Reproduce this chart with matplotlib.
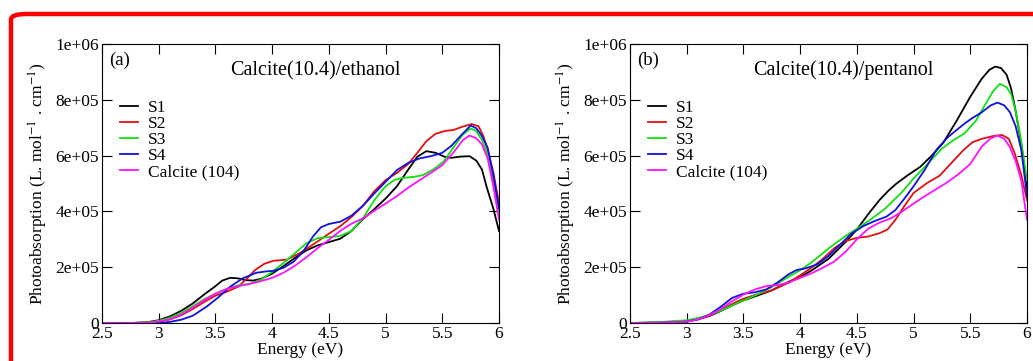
import matplotlib
matplotlib.use("Agg")
import matplotlib.pyplot as plt
from matplotlib.patches import FancyBboxPatch

plt.rcParams['font.family'] = ['Liberation Serif', 'DejaVu Serif']
plt.rcParams['mathtext.fontset'] = 'stix'

# ---------------- panel (a): ethanol ----------------
a_s1_e = [2.5, 2.75, 2.9, 3.0, 3.1, 3.2, 3.3, 3.4, 3.5, 3.56, 3.63, 3.7, 3.76, 3.83, 3.9, 4.0, 4.1, 4.2, 4.3,
          4.4, 4.5, 4.6, 4.7, 4.8, 4.9, 5.0, 5.1, 5.2, 5.28, 5.36, 5.44, 5.52, 5.58, 5.65, 5.74, 5.8, 5.85,
          5.89, 5.95, 6.0]
a_s1_v = [0, 0, 3e3, 1.0e4, 2.4e4, 4.4e4, 7.0e4, 1.02e5, 1.32e5, 1.52e5, 1.62e5, 1.6e5, 1.54e5, 1.52e5, 1.58e5,
          1.77e5, 2.04e5, 2.33e5, 2.6e5, 2.78e5, 2.9e5, 3.02e5, 3.3e5, 3.72e5, 4.08e5, 4.46e5, 4.9e5, 5.5e5,
          5.96e5, 6.16e5, 6.1e5, 5.96e5, 5.92e5, 5.96e5, 5.98e5, 5.82e5, 5.5e5, 4.89e5, 4.1e5, 3.3e5]

a_s2_e = [2.5, 2.75, 2.9, 3.0, 3.1, 3.2, 3.3, 3.4, 3.5, 3.6, 3.7, 3.78, 3.85, 3.93, 4.01, 4.13, 4.25, 4.4,
          4.5, 4.6, 4.7, 4.8, 4.9, 5.0, 5.1, 5.2, 5.28, 5.36, 5.44, 5.52, 5.6, 5.68, 5.76, 5.82, 5.86, 5.9,
          5.95, 6.0]
a_s2_v = [0, 0, 1e3, 5e3, 1.3e4, 2.8e4, 5.0e4, 7.5e4, 9.8e4, 1.12e5, 1.3e5, 1.6e5, 1.9e5, 2.12e5, 2.23e5,
          2.27e5, 2.52e5, 2.92e5, 3.2e5, 3.47e5, 3.8e5, 4.2e5, 4.72e5, 5.12e5, 5.38e5, 5.7e5, 6.1e5, 6.52e5,
          6.78e5, 6.88e5, 6.92e5, 7.04e5, 7.13e5, 7.05e5, 6.72e5, 6.22e5, 5.4e5, 4.3e5]

a_s3_e = [2.5, 2.75, 2.9, 3.0, 3.1, 3.2, 3.3, 3.4, 3.5, 3.6, 3.7, 3.8, 3.9, 4.0, 4.1, 4.2, 4.3, 4.4, 4.5,
          4.6, 4.7, 4.8, 4.9, 5.0, 5.08, 5.15, 5.25, 5.33, 5.42, 5.51, 5.6, 5.68, 5.75, 5.8, 5.85, 5.9, 5.95,
          6.0]
a_s3_v = [0, 0, 2e3, 8e3, 1.9e4, 3.6e4, 6.0e4, 8.5e4, 1.05e5, 1.22e5, 1.35e5, 1.4e5, 1.55e5, 1.83e5, 2.15e5,
          2.5e5, 2.85e5, 3.04e5, 3.08e5, 3.12e5, 3.3e5, 3.75e5, 4.4e5, 4.9e5, 5.13e5, 5.2e5, 5.24e5, 5.3e5,
          5.5e5, 5.78e5, 6.3e5, 6.75e5, 6.97e5, 6.88e5, 6.55e5, 6.05e5, 5.1e5, 3.95e5]

a_s4_e = [2.5, 2.75, 3.0, 3.1, 3.2, 3.3, 3.42, 3.52, 3.63, 3.74, 3.86, 3.95, 4.01, 4.1, 4.19, 4.28, 4.36, 4.43,
          4.5, 4.6, 4.7, 4.8, 4.9, 5.0, 5.1, 5.2, 5.3, 5.4, 5.5, 5.58, 5.66, 5.75, 5.8, 5.85, 5.9, 5.95, 6.0]
a_s4_v = [0, 0, 0, 4e3, 1.2e4, 2.6e4, 5.8e4, 9.0e4, 1.3e5, 1.6e5, 1.8e5, 1.85e5, 1.87e5, 1.98e5, 2.2e5, 2.6e5,
          3.1e5, 3.43e5, 3.55e5, 3.63e5, 3.85e5, 4.2e5, 4.64e5, 5.06e5, 5.48e5, 5.74e5, 5.9e5, 5.98e5, 6.1e5,
          6.35e5, 6.7e5, 7.08e5, 6.98e5, 6.7e5, 6.28e5, 5.3e5, 4.1e5]

a_ca_e = [2.5, 2.75, 2.9, 3.0, 3.1, 3.2, 3.3, 3.4, 3.5, 3.6, 3.7, 3.8, 3.9, 4.0, 4.1, 4.2, 4.3, 4.4, 4.5,
          4.6, 4.7, 4.8, 4.9, 5.0, 5.1, 5.2, 5.3, 5.4, 5.5, 5.6, 5.68, 5.74, 5.8, 5.85, 5.9, 5.95, 6.0]
a_ca_v = [0, 0, 1e3, 5e3, 1.4e4, 3.0e4, 5.5e4, 8.2e4, 1.05e5, 1.22e5, 1.32e5, 1.4e5, 1.5e5, 1.62e5, 1.8e5,
          2.05e5, 2.35e5, 2.68e5, 2.98e5, 3.3e5, 3.56e5, 3.75e5, 4.02e5, 4.28e5, 4.55e5, 4.85e5, 5.12e5, 5.38e5,
          5.66e5, 6.12e5, 6.55e5, 6.72e5, 6.62e5, 6.4e5, 5.9e5, 4.9e5, 3.7e5]

# ---------------- panel (b): pentanol ----------------
b_s1_e = [2.5, 2.75, 3.0, 3.1, 3.2, 3.3, 3.4, 3.5, 3.6, 3.75, 3.9, 4.0, 4.1, 4.25, 4.4, 4.5, 4.6, 4.7, 4.78,
          4.85, 4.95, 5.06, 5.16, 5.26, 5.38, 5.5, 5.6, 5.67, 5.72, 5.77, 5.82, 5.86, 5.9, 5.95, 6.0]
b_s1_v = [0, 2e3, 7e3, 1.4e4, 2.5e4, 4.3e4, 6.3e4, 8.1e4, 9.5e4, 1.17e5, 1.48e5, 1.65e5, 1.88e5, 2.3e5, 2.9e5,
          3.35e5, 3.9e5, 4.41e5, 4.75e5, 5.0e5, 5.3e5, 5.6e5, 6.0e5, 6.45e5, 7.25e5, 8.11e5, 8.75e5, 9.08e5,
          9.19e5, 9.14e5, 8.9e5, 8.4e5, 7.6e5, 6.4e5, 4.9e5]

b_s2_e = [2.5, 2.75, 3.0, 3.1, 3.2, 3.3, 3.4, 3.5, 3.6, 3.75, 3.9, 4.0, 4.1, 4.2, 4.3, 4.4, 4.5, 4.6, 4.7,
          4.77, 4.84, 4.92, 5.0, 5.12, 5.23, 5.33, 5.44, 5.52, 5.6, 5.7, 5.78, 5.84, 5.89, 5.95, 6.0]
b_s2_v = [0, 1e3, 5e3, 1.3e4, 2.6e4, 4.6e4, 6.8e4, 8.7e4, 1.0e5, 1.17e5, 1.45e5, 1.71e5, 1.98e5, 2.3e5,
          2.68e5, 2.94e5, 3.05e5, 3.1e5, 3.22e5, 3.35e5, 3.7e5, 4.2e5, 4.66e5, 5.02e5, 5.28e5, 5.72e5, 6.2e5,
          6.48e5, 6.6e5, 6.7e5, 6.74e5, 6.6e5, 6.1e5, 5.3e5, 4.4e5]

b_s3_e = [2.5, 2.75, 3.0, 3.1, 3.2, 3.3, 3.4, 3.5, 3.6, 3.75, 3.9, 4.0, 4.1, 4.25, 4.4, 4.5, 4.6, 4.75, 4.9,
          5.0, 5.1, 5.25, 5.35, 5.45, 5.55, 5.62, 5.7, 5.76, 5.82, 5.86, 5.9, 5.95, 6.0]
b_s3_v = [0, 3e3, 1.0e4, 1.8e4, 2.9e4, 4.4e4, 6.3e4, 8.1e4, 9.8e4, 1.29e5, 1.66e5, 1.89e5, 2.17e5, 2.67e5,
          3.12e5, 3.38e5, 3.65e5, 4.1e5, 4.7e5, 5.18e5, 5.6e5, 6.25e5, 6.55e5, 6.8e5, 7.25e5, 7.75e5, 8.3e5,
          8.57e5, 8.45e5, 8.2e5, 7.6e5, 6.5e5, 5.1e5]

b_s4_e = [2.5, 2.75, 3.0, 3.1, 3.2, 3.3, 3.4, 3.5, 3.6, 3.7, 3.8, 3.9, 3.97, 4.05, 4.15, 4.25, 4.35, 4.45,
          4.56, 4.66, 4.76, 4.84, 4.91, 5.0, 5.1, 5.2, 5.3, 5.38, 5.45, 5.52, 5.6, 5.68, 5.74, 5.8, 5.85, 5.9,
          5.95, 6.0]
b_s4_v = [0, 1e3, 5e3, 1.3e4, 3.0e4, 5.8e4, 9.0e4, 1.05e5, 1.1e5, 1.2e5, 1.45e5, 1.75e5, 1.9e5, 1.96e5,
          2.1e5, 2.4e5, 2.8e5, 3.2e5, 3.48e5, 3.66e5, 3.81e5, 4.05e5, 4.41e5, 4.9e5, 5.5e5, 6.2e5, 6.65e5,
          6.92e5, 7.15e5, 7.35e5, 7.55e5, 7.8e5, 7.9e5, 7.8e5, 7.55e5, 7.05e5, 6.2e5, 4.55e5]

b_ca_e = [2.5, 2.75, 3.0, 3.1, 3.2, 3.3, 3.4, 3.5, 3.6, 3.7, 3.8, 3.9, 4.0, 4.1, 4.2, 4.3, 4.4, 4.5, 4.6,
          4.7, 4.8, 4.9, 5.0, 5.1, 5.2, 5.3, 5.4, 5.5, 5.6, 5.68, 5.74, 5.8, 5.85, 5.9, 5.95, 6.0]
b_ca_v = [0, 1e3, 5e3, 1.3e4, 2.8e4, 5.0e4, 7.8e4, 1.02e5, 1.2e5, 1.32e5, 1.36e5, 1.45e5, 1.62e5, 1.78e5,
          1.98e5, 2.2e5, 2.55e5, 3.0e5, 3.38e5, 3.6e5, 3.75e5, 4.0e5, 4.28e5, 4.55e5, 4.8e5, 5.05e5, 5.35e5,
          5.7e5, 6.32e5, 6.62e5, 6.72e5, 6.6e5, 6.3e5, 5.8e5, 5.1e5, 3.7e5]

labels = ['S1', 'S2', 'S3', 'S4', 'Calcite (104)']
colors = ['black', '#e01010', '#10e010', '#1010e0', '#ff10ff']
xticks = [2.5, 3, 3.5, 4, 4.5, 5, 5.5, 6]
xticklabels = ['2.5', '3', '3.5', '4', '4.5', '5', '5.5', '6']
yticks = [0, 2e5, 4e5, 6e5, 8e5, 1e6]
yticklabels = ['0', '2e+05', '4e+05', '6e+05', '8e+05', '1e+06']

panels = [
    ("(a)", "Calcite(10.4)/ethanol",
     [(a_s1_e, a_s1_v), (a_s2_e, a_s2_v), (a_s3_e, a_s3_v), (a_s4_e, a_s4_v), (a_ca_e, a_ca_v)]),
    ("(b)", "Calcite(10.4)/pentanol",
     [(b_s1_e, b_s1_v), (b_s2_e, b_s2_v), (b_s3_e, b_s3_v), (b_s4_e, b_s4_v), (b_ca_e, b_ca_v)]),
]

fig = plt.figure(figsize=(10.33, 3.61), dpi=100)

# red rounded frame, partly cut off by the image edge
frame = FancyBboxPatch((11 / 1033, -0.2), 1.2, 1.2 - 14 / 361,
                       boxstyle="round,pad=0,rounding_size=0.015",
                       transform=fig.transFigure, fill=False,
                       edgecolor='#ff0000', linewidth=3.2, clip_on=False)
fig.patches.append(frame)

lefts = [102 / 1033, 630 / 1033]
for left, (tag, title, series) in zip(lefts, panels):
    ax = fig.add_axes([left, 38 / 361, 397 / 1033, 279 / 361])
    for (e, v), lab, col in zip(series, labels, colors):
        ax.plot(e, v, color=col, lw=1.3, label=lab, solid_joinstyle='round')
    ax.set_xlim(2.5, 6)
    ax.set_ylim(0, 1e6)
    ax.set_xticks(xticks)
    ax.set_xticklabels(xticklabels)
    ax.set_yticks(yticks)
    ax.set_yticklabels(yticklabels)
    ax.tick_params(direction='in', top=True, right=True, length=7, width=0.8,
                   labelsize=12.5, pad=2)
    for sp in ax.spines.values():
        sp.set_linewidth(0.8)
    ax.set_xlabel("Energy (eV)", fontsize=12.5, labelpad=0)
    ax.set_ylabel(r"Photoabsorption (L. mol$^{\mathrm{-1}}$ . cm$^{\mathrm{-1}}$)",
                  fontsize=12.5, labelpad=4)
    ax.text(0.018, 0.943, tag, transform=ax.transAxes, fontsize=13.5, va='center', ha='left')
    ax.text(0.537, 0.905, title, transform=ax.transAxes, fontsize=14.5, va='center', ha='center')
    ax.legend(loc='upper left', bbox_to_anchor=(0.045, 0.80), frameon=False,
              fontsize=12.5, handlelength=1.05, handletextpad=0.55, labelspacing=0.0,
              borderpad=0, borderaxespad=0)

fig.savefig("out.png", dpi=100)
